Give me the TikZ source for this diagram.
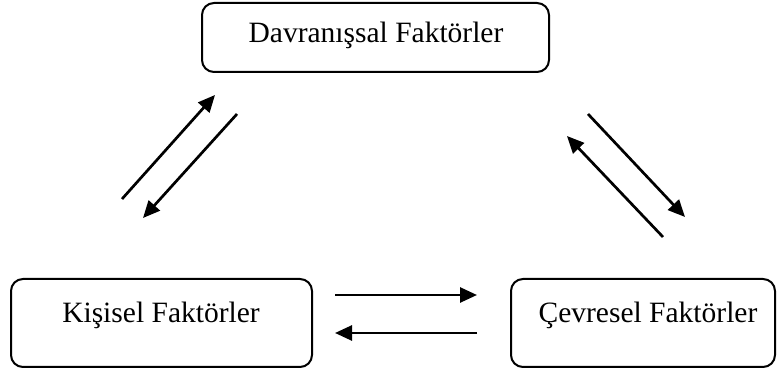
\documentclass[tikz,border=0pt]{standalone}
\usepackage{fontspec}
\setmainfont{Liberation Serif}
\usetikzlibrary{arrows.meta}
\begin{document}
\begin{tikzpicture}[x=1pt,y=-1pt,
  box/.style={draw, line width=2pt, rounded corners=12pt, inner sep=0pt},
  lbl/.style={font=\fontsize{29.5}{32}\selectfont, inner sep=0pt, anchor=base},
  arr/.style={line width=2.7pt, -{Triangle[length=17pt,width=15pt]}}]
\useasboundingbox (0,0) rectangle (780,371);
% boxes
\node[box, minimum width=347pt, minimum height=69pt] (beh) at (375.5,37.5) {};
\node[box, minimum width=301pt, minimum height=88pt] (per) at (161.5,323) {};
\node[box, minimum width=264pt, minimum height=88pt] (env) at (643,323) {};
% labels
\node[lbl] (behT) at (376,43) {Davranışsal Faktörler};
\node[lbl] (perT) at (161,323) {Kişisel Faktörler};
\node[lbl] (envT) at (648,323) {Çevresel Faktörler};
% arrow end points
\coordinate (a1s) at (122,199); \coordinate (a1e) at (215,95);
\coordinate (a2s) at (237,114); \coordinate (a2e) at (143,218);
\coordinate (b1s) at (588,114); \coordinate (b1e) at (685,217);
\coordinate (b2s) at (663,237); \coordinate (b2e) at (567,136);
\coordinate (c1s) at (335,295); \coordinate (c1e) at (477,295);
\coordinate (c2s) at (477,333); \coordinate (c2e) at (335,333);
% arrows
\draw[arr] (a1s) -- (a1e);
\draw[arr] (a2s) -- (a2e);
\draw[arr] (b1s) -- (b1e);
\draw[arr] (b2s) -- (b2e);
\draw[arr] (c1s) -- (c1e);
\draw[arr] (c2s) -- (c2e);
\end{tikzpicture}
\end{document}
